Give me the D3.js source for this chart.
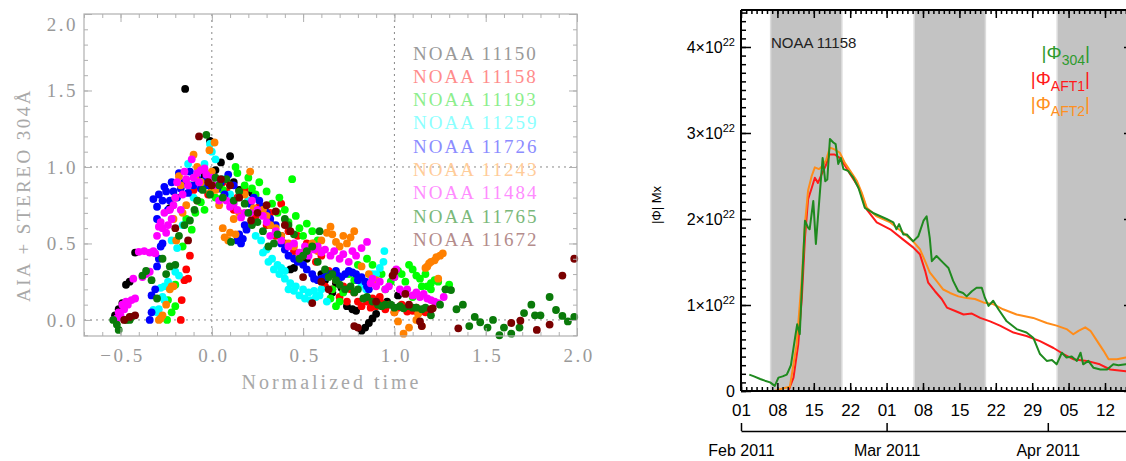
<!DOCTYPE html>
<html>
<head>
<meta charset="utf-8">
<script src="https://cdn.jsdelivr.net/npm/d3@7"></script>
<style>
  body { margin: 0; background: #fff; }
  svg { display: block; }
</style>
</head>
<body>
<svg id="chart" width="1126" height="461"></svg>
<script>
// ---------- left panel: normalized 304 flux per region ----------
const regions = ["NOAA 11150", "NOAA 11158", "NOAA 11193", "NOAA 11259", "NOAA 11726",
  "NOAA 11243", "NOAA 11484", "NOAA 11765", "NOAA 11672"]
const dotColors = ["#000000", "#ff0000", "#00ff00", "#00ffff", "#0000ff", "#ff8000", "#ff00ff", "#0a7a0a", "#7a0000"]
const labelColors = ["#999999", "#ff8c8c", "#8cee8c", "#8cffff", "#8c8cff", "#ffcc99", "#ff8cff", "#7ab87a", "#b48c8c"]

const pts11150 = [[-0.53,0.03],[-0.51,0.07],[-0.49,0.11],[-0.47,0.23],[-0.45,0.25],[-0.42,0.44],[-0.23,0.73],
  [-0.146,1.51],[-0.12,0.88],[-0.01,1.17],[0.0,0.85],[0.05,1.03],[0.10,1.07],[0.12,0.90],[0.22,0.83],[0.33,0.62],
  [0.43,0.33],[0.45,0.34],[0.52,0.40],[0.62,0.26],[0.68,0.24],[0.71,0.21],[0.74,0.09],[0.77,0.07],[0.79,0.06],
  [0.82,-0.07],[0.84,-0.05],[0.86,-0.02],[0.88,0.01],[0.90,0.04],[0.96,0.12],[1.02,0.16],
  [-0.05,0.95],[0.02,0.98],[0.15,0.85],[0.3,0.7],[0.38,0.55],[0.6,0.3],[0.66,0.18],[0.93,0.1]]
const pts11158 = [[-0.17,0.0],[-0.165,0.13],[-0.15,0.26],[-0.14,0.33],[-0.13,0.27],[-0.12,0.42],[-0.08,0.78],
  [-0.04,0.88],[0.0,0.92],[0.04,0.86],[0.08,0.84],[0.14,0.80],[0.2,0.78],[0.26,0.74],[0.32,0.70],[0.38,0.76],
  [0.42,0.58],[0.47,0.55],[0.52,0.5],[0.55,0.47],[0.6,0.42],[0.64,0.32],[0.68,0.26],[0.72,0.22],[0.76,0.2],
  [0.78,0.18],[0.82,0.09],[0.85,0.12],[0.9,0.09],[0.93,0.11],[0.97,0.1],[1.02,0.08],[1.07,0.055],[1.1,0.06],
  [1.13,0.045],[1.17,0.05],
  [-0.1,0.85],[-0.02,0.82],[0.06,0.9],[0.12,0.72],[0.18,0.85],[0.24,0.68],[0.3,0.62],[0.35,0.55],[0.4,0.5],
  [0.45,0.45],[0.5,0.42],[0.57,0.38],[0.62,0.22],[0.66,0.2],[0.7,0.15],[0.74,0.12],[0.8,0.12],[0.87,0.08],
  [0.95,0.07],[1.0,0.05],[1.04,0.1],[1.12,0.08],[1.15,0.06],[0.92,0.15],[0.88,0.14]]
const pts11193 = [[-0.245,0.0],[-0.24,0.13],[-0.2,0.23],[-0.16,0.48],[-0.11,0.59],[-0.06,0.77],[0.0,0.9],
  [0.06,0.85],[0.13,1.0],[0.14,0.96],[0.18,0.88],[0.24,0.82],[0.3,0.84],[0.37,0.80],[0.4,0.72],[0.44,0.92],
  [0.46,0.68],[0.52,0.63],[0.55,0.58],[0.58,0.52],[0.62,0.28],[0.65,0.14],[0.68,0.09],[0.72,0.18],[0.78,0.26],
  [0.85,0.4],[0.88,0.36],[0.93,0.30],[0.98,0.25],[1.02,0.32],[1.06,0.25],[1.08,0.36],[1.12,0.29],[1.15,0.22],
  [1.18,0.22],[1.2,0.2],[1.1,0.15],[1.24,0.25],
  [-0.22,0.05],[-0.2,0.09],[-0.14,0.66],[-0.09,0.7],[-0.04,0.72],[0.02,0.8],[0.1,0.88],[0.2,0.93],[0.22,0.86],
  [0.26,0.9],[0.33,0.76],[0.36,0.7],[0.42,0.64],[0.48,0.6],[0.5,0.55],[0.56,0.5],[0.6,0.45],[0.66,0.2],
  [0.7,0.12],[0.75,0.3],[0.8,0.36],[0.9,0.25],[0.95,0.2],[1.0,0.28],[1.04,0.3],[1.1,0.33],[1.14,0.27],
  [1.17,0.3],[1.22,0.26],[1.28,0.2],[1.3,0.23],[1.2,0.24]]
const pts11259 = [[-0.32,0.065],[-0.3,0.05],[-0.29,0.07],[-0.28,0.21],[-0.26,0.22],[-0.26,0.13],[-0.23,0.23],
  [-0.2,0.315],[-0.19,0.47],[-0.18,0.29],[-0.13,1.02],[-0.1,0.8],[-0.05,0.9],[-0.01,1.15],[0.02,1.05],[0.1,0.82],
  [0.2,0.78],[0.27,0.52],[0.3,0.46],[0.33,0.4],[0.36,0.36],[0.38,0.34],[0.4,0.27],[0.42,0.2],[0.45,0.19],
  [0.48,0.16],[0.51,0.14],[0.54,0.13],[0.57,0.15],[0.59,0.16],[0.63,0.12],[0.845,0.2],[0.9,0.3],[0.92,0.34],
  [0.945,0.45],
  [-0.27,0.15],[-0.24,0.25],[-0.22,0.52],[-0.16,0.62],[-0.12,0.88],[-0.08,0.95],[-0.04,1.02],[0.0,1.1],
  [0.06,0.92],[0.15,0.8],[0.24,0.55],[0.28,0.44],[0.31,0.38],[0.34,0.33],[0.37,0.3],[0.4,0.32],[0.43,0.24],
  [0.46,0.22],[0.5,0.2],[0.53,0.18],[0.56,0.19],[0.6,0.2],[0.82,0.23],[0.87,0.26],[0.88,0.3],[0.94,0.38]]
const pts11726 = [[-0.34,0.0],[-0.33,0.16],[-0.3,0.35],[-0.28,0.48],[-0.27,0.5],[-0.3,0.66],[-0.3,0.74],
  [-0.27,0.78],[-0.26,0.87],[-0.23,0.78],[-0.21,0.84],[-0.19,0.80],[-0.18,0.96],[-0.15,0.9],[-0.1,0.88],
  [-0.06,0.86],[-0.03,0.93],[0.03,0.86],[0.09,0.95],[0.12,0.88],[0.14,0.52],[0.16,0.5],[0.19,0.59],[0.23,0.8],
  [0.26,0.78],[0.3,0.7],[0.35,0.62],[0.4,0.46],[0.45,0.4],[0.5,0.36],[0.55,0.3],[0.58,0.26],[0.62,0.28],
  [0.66,0.3],[0.69,0.29],[0.73,0.3],[0.77,0.31],[0.82,0.28],[0.85,0.22],
  [-0.33,0.05],[-0.31,0.2],[-0.29,0.4],[-0.32,0.79],[-0.29,0.82],[-0.25,0.84],[-0.24,0.72],[-0.22,0.9],
  [-0.17,0.86],[-0.13,0.83],[-0.12,0.97],[-0.08,0.92],[-0.02,0.88],[0.0,0.96],[0.05,0.9],[0.07,0.82],
  [0.15,0.56],[0.17,0.53],[0.18,0.62],[0.21,0.76],[0.28,0.74],[0.32,0.66],[0.38,0.5],[0.42,0.42],[0.47,0.38],
  [0.52,0.33],[0.56,0.27],[0.6,0.27],[0.64,0.3],[0.68,0.32],[0.71,0.28],[0.75,0.32],[0.79,0.3],[0.8,0.26],
  [0.84,0.25],[0.86,0.2]]
const pts11243 = [[-0.28,0.01],[-0.27,0.03],[-0.25,0.1],[-0.22,0.22],[-0.21,0.22],[-0.195,0.52],[-0.18,0.94],
  [-0.16,0.7],[-0.1,1.08],[-0.08,1.0],[-0.013,1.11],[0.015,1.16],[-0.01,0.83],[0.04,0.75],[0.07,0.54],[0.1,0.57],
  [0.15,0.7],[0.21,0.97],[0.26,0.7],[0.3,0.68],[0.35,0.6],[0.42,0.5],[0.5,0.44],[0.55,0.5],[0.6,0.52],[0.65,0.61],
  [0.68,0.51],[0.7,0.48],[0.72,0.55],[0.76,0.54],[0.9,0.26],[1.02,-0.01],[1.05,-0.09],[1.12,0.0],[1.15,-0.04],
  [1.17,0.34],[1.18,0.35],[1.2,0.38],[1.22,0.39],[1.24,0.27],[1.25,0.42],[1.265,0.435],
  [-0.29,0.0],[-0.23,0.2],[-0.21,0.66],[-0.2,0.8],[-0.17,0.88],[-0.14,0.75],[-0.09,0.93],[-0.06,0.9],
  [0.0,0.97],[0.02,0.85],[0.06,0.6],[0.09,0.52],[0.12,0.66],[0.13,0.56],[0.18,0.82],[0.23,0.73],[0.28,0.72],
  [0.32,0.62],[0.38,0.55],[0.45,0.48],[0.48,0.42],[0.53,0.47],[0.58,0.45],[0.63,0.57],[0.66,0.56],[0.74,0.5],
  [0.78,0.58],[0.82,0.35],[0.86,0.3],[1.0,0.05],[1.08,-0.05],[1.13,0.04],[1.19,0.37],[1.23,0.41]]
const pts11484 = [[-0.52,0.01],[-0.5,0.03],[-0.48,0.07],[-0.46,0.1],[-0.44,0.13],[-0.42,0.14],[-0.38,0.28],
  [-0.4,0.445],[-0.37,0.45],[-0.34,0.44],[-0.34,0.315],[-0.31,0.435],[-0.29,0.61],[-0.27,0.6],[-0.25,0.57],
  [-0.22,0.66],[-0.2,0.8],[-0.17,0.72],[-0.14,0.92],[-0.11,1.05],[-0.08,0.96],[-0.06,0.98],[-0.03,0.95],
  [0.02,0.88],[0.06,0.8],[0.1,0.74],[0.14,0.72],[0.18,0.7],[0.21,0.7],[0.22,0.78],[0.28,0.68],[0.35,0.58],
  [0.42,0.48],[0.51,0.48],[0.56,0.46],[0.6,0.44],[0.65,0.42],[0.7,0.4],[0.75,0.38],[0.79,0.42],[0.85,0.51],
  [0.87,0.24],[0.9,0.22],[0.95,0.2],[1.01,0.33],[1.03,0.2],[1.05,0.18],[1.1,0.16],[1.14,0.15],[1.18,0.14],
  [1.2,0.13],[1.24,0.11],
  [-0.51,0.05],[-0.49,0.1],[-0.47,0.12],[-0.43,0.27],[-0.36,0.3],[-0.32,0.45],[-0.3,0.55],[-0.28,0.64],
  [-0.26,0.7],[-0.24,0.62],[-0.23,0.72],[-0.21,0.75],[-0.19,0.9],[-0.16,0.82],[-0.15,0.97],[-0.13,0.88],
  [-0.1,0.93],[-0.07,0.9],[-0.04,0.99],[0.0,0.93],[0.04,0.78],[0.08,0.78],[0.12,0.76],[0.16,0.67],[0.25,0.72],
  [0.3,0.64],[0.32,0.55],[0.38,0.52],[0.45,0.5],[0.48,0.44],[0.53,0.42],[0.58,0.48],[0.62,0.46],[0.67,0.45],
  [0.72,0.43],[0.77,0.45],[0.82,0.47],[0.88,0.27],[0.92,0.25],[0.97,0.22],[1.0,0.28],[1.07,0.2],[1.12,0.18],
  [1.16,0.17],[1.22,0.12],[1.27,0.15]]
const pts11765 = [[-0.54,0.0],[-0.51,-0.065],[-0.47,0.0],[-0.44,0.02],[-0.38,0.29],[-0.33,0.26],[-0.3,0.14],
  [-0.27,0.4],[-0.23,0.35],[-0.2,0.36],[-0.15,0.62],[-0.095,0.72],[-0.05,0.85],[-0.03,1.21],[0.04,0.88],
  [0.08,0.92],[0.105,0.51],[0.15,0.84],[0.2,0.7],[0.25,0.64],[0.31,0.48],[0.34,0.5],[0.4,0.66],[0.45,0.56],
  [0.48,0.4],[0.52,0.45],[0.59,0.58],[0.62,0.33],[0.66,0.3],[0.7,0.23],[0.76,0.22],[0.8,0.2],[0.85,0.15],
  [0.91,0.1],[0.95,0.1],[1.0,0.08],[1.05,0.076],[1.1,0.08],[1.15,0.07],[1.2,0.03],[1.31,0.195],[1.34,0.07],
  [1.375,0.1],[1.41,-0.04],[1.44,0.02],[1.47,-0.015],[1.51,-0.05],[1.54,0.0],[1.575,-0.1],[1.6,-0.05],
  [1.64,-0.09],[1.685,-0.05],[1.71,0.045],[1.75,0.1],[1.77,0.03],[1.8,0.03],[1.85,0.15],[1.885,0.065],
  [1.92,0.026],[1.95,-0.01],[1.985,0.02],
  [-0.52,-0.03],[-0.45,0.0],[-0.36,0.32],[-0.25,0.3],[-0.18,0.55],[-0.12,0.65],[-0.08,0.78],[-0.01,0.82],
  [0.02,0.93],[0.06,0.8],[0.12,0.78],[0.18,0.76],[0.22,0.62],[0.28,0.58],[0.36,0.56],[0.42,0.62],[0.5,0.42],
  [0.55,0.48],[0.58,0.38],[0.64,0.28],[0.68,0.26],[0.73,0.2],[0.78,0.18],[0.83,0.14],[0.88,0.12],[0.93,0.09],
  [0.98,0.1],[1.03,0.09],[1.08,0.09],[1.12,0.08],[1.17,0.08],[1.25,0.1],[1.28,0.2]]
const pts11672 = [[-0.48,0.0],[-0.42,0.03],[-0.13,0.52],[-0.07,1.2],[-0.02,0.9],[0.05,0.92],[0.1,0.88],
  [0.215,0.65],[0.3,0.75],[0.35,0.71],[0.43,0.58],[0.5,0.28],[0.55,0.11],[0.64,0.2],[0.78,-0.04],[0.8,-0.05],
  [0.99,0.29],[1.0,0.315],[1.06,0.17],[1.14,-0.01],[1.15,-0.04],[1.21,0.076],[1.35,-0.055],[1.64,-0.02],
  [1.69,-0.005],[1.78,-0.065],[1.85,-0.03],[1.92,0.29],[1.985,0.4],
  [-0.45,0.02],[-0.2,0.6],[0.0,0.88],[0.15,0.8],[0.25,0.7],[0.4,0.62],[0.6,0.25],[0.9,0.12],[1.08,0.1],[1.2,0.07]]
const regionPts = [pts11150, pts11158, pts11193, pts11259, pts11726, pts11243, pts11484, pts11765, pts11672]

const xTicksL = [-0.5, 0, 0.5, 1.0, 1.5, 2.0]
const yTicksL = [0, 0.5, 1.0, 1.5, 2.0]

// ---------- right panel: NOAA 11158 flux time series ----------
// [days since 2011-02-01, flux in 1e22 Mx]
const phi304 = [[1.6,0.19],[2.5,0.17],[3.7,0.14],[4.6,0.12],[5.6,0.10],[6.5,0.06],[7.2,0.155],[8.0,0.17],
  [8.8,0.19],[9.1,0.23],[9.6,0.3],[10.4,0.62],[10.8,0.775],[11.3,0.66],[11.7,1.2],[12.3,1.98],[12.9,1.90],
  [13.2,1.88],[13.9,2.21],[14.4,1.71],[15.2,2.33],[15.7,2.71],[16.2,2.44],[16.6,2.46],[17.1,2.93],[17.75,2.89],
  [18.2,2.87],[18.7,2.64],[19.2,2.71],[19.7,2.58],[20.6,2.56],[21.6,2.48],[22.6,2.36],[23.8,2.13],[25.4,2.07],
  [28.0,2.0],[29.3,1.96],[29.9,1.88],[30.4,1.94],[31.2,1.82],[31.9,1.82],[33.1,1.74],[34.1,1.80],[35.1,1.98],
  [35.7,2.03],[36.3,1.78],[36.7,1.51],[37.6,1.57],[38.9,1.49],[39.9,1.43],[40.8,1.28],[41.8,1.16],[42.7,1.14],
  [43.4,1.10],[44.4,1.16],[45.3,1.20],[46.3,1.20],[46.9,1.085],[47.6,0.99],[48.5,1.05],[49.5,0.95],[51.1,0.81],
  [53.0,0.72],[54.9,0.68],[56.2,0.62],[57.5,0.43],[58.8,0.35],[59.8,0.36],[60.7,0.31],[61.7,0.445],[62.6,0.39],
  [63.6,0.40],[64.6,0.35],[65.3,0.445],[65.8,0.31],[66.8,0.35],[67.8,0.27],[69.1,0.25],[70.4,0.25],[71.6,0.31],
  [72.6,0.30],[74.0,0.31],[75.8,0.30]]
const phiAft1 = [[0,0],[9.1,0],[10.1,0.155],[11.0,0.54],[11.7,1.085],[12.3,1.78],[12.9,2.23],[13.6,2.36],
  [14.2,2.48],[14.8,2.42],[15.5,2.52],[16.3,2.62],[17.0,2.75],[18.0,2.75],[19.0,2.71],[20.0,2.62],[21.0,2.52],
  [22.3,2.40],[23.2,2.29],[24.2,2.11],[26.1,1.96],[28.7,1.88],[31.2,1.76],[33.1,1.67],[34.4,1.59],[35.4,1.40],
  [36.0,1.26],[37.3,1.16],[38.6,1.07],[39.6,0.97],[41.2,0.93],[42.8,0.89],[44.4,0.90],[46.0,0.85],[47.9,0.81],
  [49.8,0.76],[52.4,0.68],[54.9,0.64],[57.5,0.58],[60.1,0.50],[62.0,0.43],[63.9,0.37],[66.5,0.35],[69.0,0.31],
  [71.0,0.25],[74.0,0.23],[75.8,0.22]]
const phiAft2 = [[0,0],[6.5,0],[8.0,0.03],[9.4,0.05],[10.7,0.54],[11.7,1.32],[12.3,1.94],[12.9,2.33],
  [13.6,2.50],[14.2,2.60],[15.0,2.58],[15.7,2.62],[16.4,2.69],[17.1,2.83],[18.0,2.81],[19.0,2.77],[20.0,2.65],
  [21.0,2.56],[22.3,2.44],[23.2,2.31],[24.2,2.13],[26.1,2.03],[28.7,1.96],[31.2,1.84],[33.1,1.74],[34.4,1.65],
  [35.4,1.51],[36.3,1.38],[37.6,1.28],[38.9,1.18],[40.2,1.14],[41.8,1.10],[43.4,1.08],[45.0,1.07],[46.6,1.03],
  [48.5,1.01],[50.4,0.95],[53.0,0.89],[56.2,0.85],[58.8,0.79],[60.7,0.76],[62.6,0.72],[63.9,0.66],[64.9,0.70],
  [66.2,0.74],[67.2,0.70],[68.5,0.58],[69.7,0.47],[70.7,0.37],[72.3,0.37],[74.0,0.39],[75.8,0.39]]

// shaded intervals, days since 2011-02-01
const bandStart = [5.7, 33.3, 60.8]
const bandEnd = [19.4, 47.0, 80]

const fluxTicks = [0, 1e22, 2e22, 3e22, 4e22]

const svg = d3.select("#chart")

//========== left panel ==========
const serif = "Liberation Serif, DejaVu Serif, serif"
const L = { left: 84, right: 577, top: 14, bottom: 336 }
const x = d3.scaleLinear().domain([-0.7, 2.0]).range([L.left, L.right])
const y = d3.scaleLinear().domain([-0.105, 2.0]).range([L.bottom, L.top])

const left = svg.append("g").attr("id", "left")

// dotted reference lines
left.append("g").selectAll("line.vref").data([0, 1]).join("line")
  .attr("x1", d => x(d)).attr("x2", d => x(d))
  .attr("y1", L.top).attr("y2", L.bottom)
left.append("g").selectAll("line.href").data([0, 1]).join("line")
  .attr("x1", L.left).attr("x2", L.right)
  .attr("y1", d => y(d)).attr("y2", d => y(d))
left.selectAll("line").attr("stroke", "#888").attr("stroke-width", 1).attr("stroke-dasharray", "2,4")

// points
regionPts.forEach((pts, i) => {
  left.append("g").selectAll("circle").data(pts).join("circle")
    .attr("cx", d => x(d[0]))
    .attr("cy", d => y(d[1]))
    .attr("r", 3.9)
    .attr("fill", dotColors[i])
})

// axes, ticks inward
const minorX = d3.range(-7, 21).map(d => d / 10)
const minorY = d3.range(-1, 21).map(d => d / 10)
const axisGrey = "#b0b0b0"
function styleL(g) {
  g.select(".domain").remove()
  g.selectAll("line").attr("stroke", axisGrey)
  g.selectAll("text").attr("fill", "#999").attr("font-family", serif).attr("font-size", 19)
    .attr("letter-spacing", 2.5)
}
left.append("g").attr("transform", `translate(0,${L.bottom})`)
  .call(d3.axisBottom(x).tickValues(minorX).tickSize(-4).tickFormat("")).call(styleL)
const xAxL = left.append("g").attr("transform", `translate(0,${L.bottom})`)
  .call(d3.axisBottom(x).tickValues(xTicksL).tickSize(-8).tickPadding(13).tickFormat(d3.format(".1f"))).call(styleL)
xAxL.selectAll("text").attr("dx", 1.5)
left.append("g").attr("transform", `translate(0,${L.top})`)
  .call(d3.axisTop(x).tickValues(minorX).tickSize(-4).tickFormat("")).call(styleL)
left.append("g").attr("transform", `translate(0,${L.top})`)
  .call(d3.axisTop(x).tickValues(xTicksL).tickSize(-8).tickFormat("")).call(styleL)
left.append("g").attr("transform", `translate(${L.left},0)`)
  .call(d3.axisLeft(y).tickValues(minorY).tickSize(-4).tickFormat("")).call(styleL)
const yAxL = left.append("g").attr("transform", `translate(${L.left},0)`)
  .call(d3.axisLeft(y).tickValues(yTicksL).tickSize(-8).tickPadding(6).tickFormat(d3.format(".1f"))).call(styleL)
yAxL.selectAll("text").filter(d => d === 2.0).attr("y", 10)
left.append("g").attr("transform", `translate(${L.right},0)`)
  .call(d3.axisRight(y).tickValues(minorY).tickSize(-4).tickFormat("")).call(styleL)
left.append("g").attr("transform", `translate(${L.right},0)`)
  .call(d3.axisRight(y).tickValues(yTicksL).tickSize(-8).tickFormat("")).call(styleL)

left.append("rect")
  .attr("x", L.left).attr("y", L.top)
  .attr("width", L.right - L.left).attr("height", L.bottom - L.top)
  .attr("fill", "none").attr("stroke", axisGrey).attr("stroke-width", 1.2)

left.append("text")
  .attr("x", (L.left + L.right) / 2 + 1).attr("y", 389)
  .attr("text-anchor", "middle")
  .attr("font-family", serif).attr("font-size", 20).attr("fill", "#a8a8a8")
  .attr("letter-spacing", 3)
  .text("Normalized time")
left.append("text")
  .attr("transform", "translate(30,195) rotate(-90)")
  .attr("text-anchor", "middle")
  .attr("font-family", serif).attr("font-size", 19).attr("fill", "#a8a8a8")
  .attr("letter-spacing", 2.5)
  .text("AIA + STEREO 304Å")

left.append("g").selectAll("text").data(regions).join("text")
  .attr("x", 413)
  .attr("y", (d, i) => 59.5 + i * 23.3)
  .attr("font-family", serif).attr("font-size", 19)
  .attr("letter-spacing", 2)
  .attr("fill", (d, i) => labelColors[i])
  .text(d => d)

//========== right panel ==========
const sans = "Liberation Sans, Arial, sans-serif"
const R = { left: 741, right: 1134, top: 10, bottom: 391 }
const t0 = new Date(Date.UTC(2011, 1, 1))
const dayToDate = d => new Date(t0.getTime() + d * 864e5)
const xR = d3.scaleUtc().domain([t0, dayToDate((R.right - R.left) / 5.2)]).range([R.left, R.right])
const yR = d3.scaleLinear().domain([0, 4.43e22]).range([R.bottom, R.top])

const right = svg.append("g").attr("id", "right")
right.append("clipPath").attr("id", "clipR").append("rect")
  .attr("x", R.left).attr("y", R.top).attr("width", R.right - R.left).attr("height", R.bottom - R.top)

right.append("g").selectAll("rect").data(bandStart).join("rect")
  .attr("clip-path", "url(#clipR)")
  .attr("x", d => xR(dayToDate(d)))
  .attr("width", (d, i) => xR(dayToDate(bandEnd[i])) - xR(dayToDate(d)))
  .attr("y", R.top).attr("height", R.bottom - R.top)
  .attr("fill", "#c3c3c3").attr("stroke", "#dcdcdc").attr("stroke-width", 1.5)

const line = d3.line().x(d => xR(dayToDate(d[0]))).y(d => yR(d[1] * 1e22))
const series = [
  { data: phiAft1, color: "#ff1a1a" },
  { data: phiAft2, color: "#ff8c1a" },
  { data: phi304, color: "#1f8a1f" },
]
right.append("g").attr("clip-path", "url(#clipR)")
  .selectAll("path").data(series).join("path")
  .attr("d", d => line(d.data))
  .attr("fill", "none")
  .attr("stroke", d => d.color)
  .attr("stroke-width", 2)
  .attr("stroke-linejoin", "round")

// axes
const allDays = d3.utcDay.range(t0, dayToDate(76))
const weekDays = allDays.filter((d, i) => i % 7 === 0)
const minorFlux = d3.range(0, 45).map(d => d * 1e21)
function styleR(g) {
  g.select(".domain").remove()
  g.selectAll("line").attr("stroke", "#000").attr("stroke-width", 1.5)
  g.selectAll("text").attr("fill", "#000").attr("font-family", sans).attr("font-size", 17)
}
right.append("g").attr("transform", `translate(0,${R.bottom})`)
  .call(d3.axisBottom(xR).tickValues(allDays).tickSize(-4).tickFormat("")).call(styleR)
right.append("g").attr("transform", `translate(0,${R.bottom})`)
  .call(d3.axisBottom(xR).tickValues(weekDays).tickSize(-8).tickPadding(13).tickFormat(d3.utcFormat("%d"))).call(styleR)
right.append("g").attr("transform", `translate(0,${R.top})`)
  .call(d3.axisTop(xR).tickValues(allDays).tickSize(-4).tickFormat("")).call(styleR)
right.append("g").attr("transform", `translate(0,${R.top})`)
  .call(d3.axisTop(xR).tickValues(weekDays).tickSize(-8).tickFormat("")).call(styleR)
right.append("g").attr("transform", `translate(${R.left},0)`)
  .call(d3.axisLeft(yR).tickValues(minorFlux).tickSize(-5).tickFormat("")).call(styleR)
const yAxR = right.append("g").attr("transform", `translate(${R.left},0)`)
  .call(d3.axisLeft(yR).tickValues(fluxTicks).tickSize(-10).tickPadding(6)).call(styleR)
yAxR.selectAll("text").attr("font-size", 16).each(function (d) {
  const t = d3.select(this).text("")
  if (d === 0) { t.text("0"); return }
  t.append("tspan").text(`${d / 1e22}×10`)
  t.append("tspan").attr("dy", -7).attr("font-size", 11).text("22")
})
right.append("g").attr("transform", `translate(${R.right},0)`)
  .call(d3.axisRight(yR).tickValues(fluxTicks).tickSize(-10).tickFormat("")).call(styleR)

right.append("g").selectAll("line").data([
  [R.left, R.top, R.right, R.top], [R.left, R.bottom, R.right, R.bottom], [R.left, R.top, R.left, R.bottom]
]).join("line")
  .attr("x1", d => d[0]).attr("y1", d => d[1]).attr("x2", d => d[2]).attr("y2", d => d[3])
  .attr("stroke", "#000").attr("stroke-width", 2)

// month axis
const months = d3.utcMonth.range(t0, dayToDate(76))
const monthAx = right.append("g").attr("transform", "translate(0,431)")
  .call(d3.axisBottom(xR).tickValues(months).tickSize(-8).tickSizeOuter(0).tickPadding(14)
    .tickFormat(d3.utcFormat("%b %Y")))
monthAx.select(".domain").attr("stroke", "#000").attr("stroke-width", 1.5)
monthAx.selectAll("line").attr("stroke", "#000").attr("stroke-width", 1.5)
monthAx.selectAll("text").attr("fill", "#000").attr("font-family", sans).attr("font-size", 16)

right.append("text")
  .attr("x", 771).attr("y", 48)
  .attr("font-family", sans).attr("font-size", 15).attr("fill", "#222")
  .text("NOAA 11158")

right.append("text")
  .attr("transform", "translate(661,205) rotate(-90)")
  .attr("text-anchor", "middle")
  .attr("font-family", sans).attr("font-size", 13).attr("fill", "#000")
  .text("|Φ| Mx")

const legendR = [
  { sub: "304", color: "#2e9a2e" },
  { sub: "AFT1", color: "#ff1a1a" },
  { sub: "AFT2", color: "#ff9020" },
]
legendR.forEach((d, i) => {
  const t = right.append("text")
    .attr("x", 1090).attr("y", 59 + i * 25.5)
    .attr("text-anchor", "end")
    .attr("font-family", sans).attr("font-size", 19).attr("fill", d.color)
  t.append("tspan").text("|Φ")
  t.append("tspan").attr("dy", 6).attr("font-size", 14).text(d.sub)
  t.append("tspan").attr("dy", -6).text("|")
})
</script>
</body>
</html>
